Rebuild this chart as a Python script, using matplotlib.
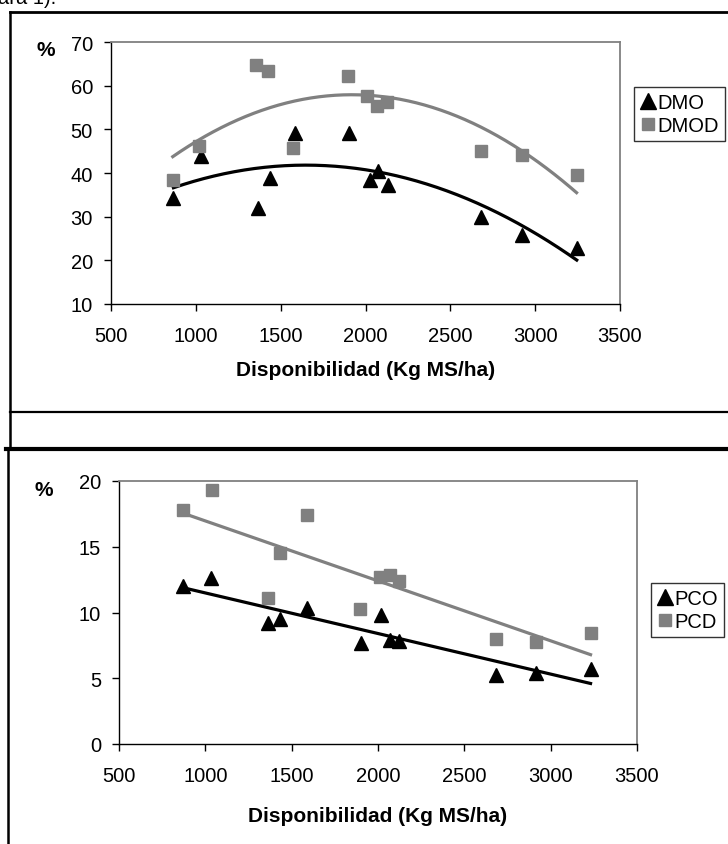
import numpy as np
import matplotlib
matplotlib.use("Agg")
from matplotlib import pyplot as plt
from matplotlib.lines import Line2D

plt.rcParams['font.family'] = ['Liberation Sans', 'DejaVu Sans']

# top chart: digestibility vs. forage availability
dmo_x = [868, 1028, 1364, 1437, 1585, 1904, 2024, 2073, 2133, 2683, 2924, 3245]
dmo_y = [34.3, 43.9, 32.0, 38.8, 49.2, 49.2, 38.3, 40.5, 37.3, 30.0, 25.7, 22.8]
dmod_x = [864, 1018, 1354, 1427, 1572, 1896, 2010, 2066, 2129, 2679, 2920, 3244]
dmod_y = [38.3, 46.1, 64.8, 63.4, 45.7, 62.1, 57.6, 55.3, 56.2, 45.0, 44.2, 39.6]

# bottom chart: crude protein vs. forage availability
pco_x = [871, 1035, 1363, 1431, 1586, 1900, 2016, 2072, 2120, 2683, 2914, 3231]
pco_y = [12.0, 12.66, 9.19, 9.49, 10.38, 7.67, 9.79, 7.92, 7.8, 5.24, 5.39, 5.69]
pcd_x = [871, 1036, 1363, 1431, 1586, 1898, 2010, 2072, 2123, 2681, 2914, 3231]
pcd_y = [17.77, 19.3, 11.14, 14.5, 17.45, 10.25, 12.7, 12.83, 12.38, 7.97, 7.72, 8.43]

x_ticks = [500, 1000, 1500, 2000, 2500, 3000, 3500]
top_y_ticks = [10, 20, 30, 40, 50, 60, 70]
bottom_y_ticks = [0, 5, 10, 15, 20]

GRAY = '#808080'
W, H = 728, 845


def px_rect(left, top, right, bottom):
    return [left / W, 1 - bottom / H, (right - left) / W, (bottom - top) / H]


def trend(ax, xs, ys, deg, color):
    coef = np.polyfit(xs, ys, deg)
    xx = np.linspace(min(xs), max(xs), 200)
    ax.plot(xx, np.polyval(coef, xx), color=color, lw=2.3, zorder=2)


def style_axes(ax, yticks, labelpad):
    ax.set_xlim(500, 3500)
    ax.set_ylim(yticks[0], yticks[-1])
    ax.set_xticks(x_ticks)
    ax.set_yticks(yticks)
    for side in ['top', 'right']:
        ax.spines[side].set_color(GRAY)
        ax.spines[side].set_linewidth(1.3)
    for side in ['left', 'bottom']:
        ax.spines[side].set_color('black')
        ax.spines[side].set_linewidth(1.0)
    ax.tick_params(axis='x', direction='out', length=5, width=1, labelsize=14.5, pad=11)
    ax.tick_params(axis='y', direction='out', length=5, width=1, labelsize=14.5, pad=8)
    ax.set_xlabel('Disponibilidad (Kg MS/ha)', fontsize=15, fontweight='bold',
                  labelpad=labelpad)


def draw_chart(ax, x1, y1, lab1, x2, y2, lab2, deg, yticks, leg_pos, labelpad):
    ax.plot(x1, y1, '^', color='black', ms=10, label=lab1, zorder=3, clip_on=False)
    ax.plot(x2, y2, 's', color=GRAY, ms=8.5, label=lab2, zorder=3, clip_on=False)
    trend(ax, x1, y1, deg, 'black')
    trend(ax, x2, y2, deg, GRAY)
    style_axes(ax, yticks, labelpad)
    leg = ax.legend(loc='upper left', bbox_to_anchor=leg_pos, bbox_transform=fig.transFigure,
                    fontsize=14.5, frameon=True, fancybox=False, handlelength=0.75,
                    handletextpad=0.1, borderpad=0.3, labelspacing=0.2, borderaxespad=0,
                    markerscale=1.1)
    leg.get_frame().set_edgecolor('black')
    leg.get_frame().set_linewidth(1.0)


fig = plt.figure(figsize=(W / 100, H / 100), dpi=100)

ax1 = fig.add_axes(px_rect(111, 43, 620, 305))
draw_chart(ax1, dmo_x, dmo_y, 'DMO', dmod_x, dmod_y, 'DMOD', 2, top_y_ticks,
           (634 / W, 1 - 88 / H), 10.5)

ax2 = fig.add_axes(px_rect(119, 482, 637, 745))
draw_chart(ax2, pco_x, pco_y, 'PCO', pcd_x, pcd_y, 'PCD', 1, bottom_y_ticks,
           (651 / W, 1 - 584 / H), 15)

fig.text(46 / W, 1 - 51 / H, '%', fontsize=15, fontweight='bold', ha='center', va='center')
fig.text(44 / W, 1 - 491 / H, '%', fontsize=15, fontweight='bold', ha='center', va='center')

# caption text from the page above, cut off at the top edge
fig.text(-2 / W, 1 - 4.5 / H, 'ara 1).', fontsize=14.5, ha='left', va='baseline')

# page frame lines around the two figures
frame = [
    ((10, 728), (12.7, 12.7), 2.0),
    ((10, 10), (12.7, 450), 1.8),
    ((10, 728), (412.7, 412.7), 1.6),
    ((6, 728), (450, 450), 3.0),
    ((8, 8), (450, 845), 1.8),
]
for xs, ys, lw in frame:
    fig.add_artist(Line2D([x / W for x in xs], [1 - y / H for y in ys],
                          color='black', lw=lw, transform=fig.transFigure))

fig.savefig('out.png', dpi=100)
